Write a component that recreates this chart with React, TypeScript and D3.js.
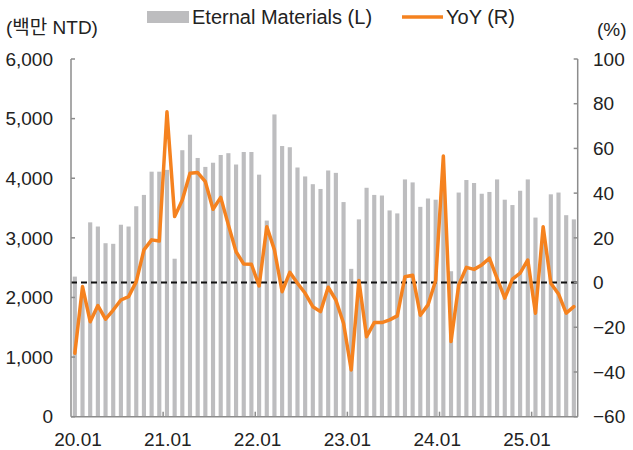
import React from "react";
import * as d3 from "d3";

const years = ["20", "21", "22", "23", "24", "25"];
const monthsPerYear = ["01", "02", "03", "04", "05", "06", "07", "08", "09", "10", "11", "12"];
const categories: string[] = [];
years.forEach((y) => monthsPerYear.forEach((m) => categories.push(`${y}.${m}`)));
const months = categories.slice(0, 66);

const salesValues = [
  2350, 2050, 3260, 3190, 2910, 2900, 3220, 3190, 3530, 3720, 4110, 4110,
  4140, 2650, 4470, 4730, 4340, 4190, 4260, 4390, 4420, 4230, 4440, 4440,
  4060, 3290, 5070, 4540, 4520, 4180, 4030, 3900, 3820, 4130, 4090, 3600,
  2480, 3310, 3840, 3720, 3710, 3460, 3410, 3980, 3930, 3520, 3660, 3640,
  3880, 2440, 3760, 3970, 3920, 3740, 3770, 3980, 3640, 3550, 3790, 3980,
  3340, 3050, 3730, 3760, 3380, 3310,
];

const yoyValues = [
  -31.6, -1.8, -17.5, -10.3, -16.4, -12.3, -7.8, -6.3, 0.4, 14.6, 19.1, 18.6,
  76.4, 29.5, 36.9, 48.9, 49.2, 45.1, 32.8, 38.1, 25.8, 13.8, 8.3, 8.2,
  -1.5, 25.0, 14.6, -4.1, 4.6, -0.3, -4.8, -10.8, -13.0, -2.1, -7.8, -18.2,
  -39.1, 0.9, -24.2, -17.9, -17.9, -16.7, -14.9, 2.6, 3.3, -14.6, -10.0, 0.9,
  56.6, -26.4, -1.1, 6.8, 5.9, 7.9, 10.9, 1.9, -7.0, 1.5, 4.2, 10.1,
  -13.7, 25.0, -0.3, -5.1, -13.7, -10.8,
];

const leftTicks = [0, 1000, 2000, 3000, 4000, 5000, 6000];
const rightTicks = [-60, -40, -20, 0, 20, 40, 60, 80, 100];
const xTickLabels = ["20.01", "21.01", "22.01", "23.01", "24.01", "25.01"];

const W = 633;
const H = 450;
const plot = { left: 71, right: 577.7, top: 59, bottom: 416.7 };
const FONT = "'Liberation Sans', Arial, 'Noto Sans CJK KR', sans-serif";
const BAR = "#bdbdbf";
const ORANGE = "#f5821f";
const AXIS = "#8c8c8c";
const TEXT = "#222";

export default function App() {
  const x = d3
    .scaleBand<string>()
    .domain(months)
    .range([plot.left, plot.right])
    .paddingInner(0.46)
    .paddingOuter(0.23);
  const yL = d3.scaleLinear().domain([0, 6000]).range([plot.bottom, plot.top]);
  const yR = d3.scaleLinear().domain([-60, 100]).range([plot.bottom, plot.top]);
  const step = x.step();
  const cx = (m: string) => (x(m) as number) + x.bandwidth() / 2;

  const line = d3
    .line<number>()
    .x((_, i) => cx(months[i]))
    .y((d) => yR(d));

  // label centres spread slightly tighter than category centres (as in original)
  const labelX = d3
    .scaleLinear()
    .domain([0, 60])
    .range([plot.left + 7, plot.left + 456]);

  const yearTicks = [12, 24, 36, 48, 60].map((i) => plot.left + i * step);

  return (
    <svg
      width={W}
      height={H}
      style={{ position: "absolute", left: 0, top: 0, display: "block", background: "#fff" }}
      fontFamily={FONT}
    >
      {/* bars */}
      {salesValues.map((v, i) => (
        <rect
          key={i}
          x={x(months[i])}
          y={yL(v)}
          width={x.bandwidth()}
          height={yL(0) - yL(v)}
          fill={BAR}
        />
      ))}

      {/* zero line for YoY */}
      <line
        x1={plot.left}
        x2={plot.right}
        y1={yR(0)}
        y2={yR(0)}
        stroke="#111"
        strokeWidth={2}
        strokeDasharray="6,4"
      />

      {/* YoY line */}
      <path
        d={line(yoyValues) || ""}
        fill="none"
        stroke={ORANGE}
        strokeWidth={3.5}
        strokeLinejoin="round"
        strokeLinecap="round"
      />

      {/* axes */}
      <line x1={plot.left} x2={plot.left} y1={plot.top} y2={plot.bottom} stroke={AXIS} strokeWidth={1.5} />
      <line x1={plot.right} x2={plot.right} y1={plot.top} y2={plot.bottom} stroke={AXIS} strokeWidth={1.5} />
      <line x1={plot.left} x2={plot.right} y1={plot.bottom} y2={plot.bottom} stroke={AXIS} strokeWidth={1.5} />
      {leftTicks.map((t) => (
        <g key={"l" + t}>
          <line x1={plot.left} x2={plot.left + 4} y1={yL(t)} y2={yL(t)} stroke={AXIS} strokeWidth={1.5} />
          <text x={53} y={yL(t)} dy="0.35em" textAnchor="end" fontSize={19} fill={TEXT}>
            {d3.format(",")(t)}
          </text>
        </g>
      ))}
      {rightTicks.map((t) => (
        <g key={"r" + t}>
          <line x1={plot.right - 4} x2={plot.right} y1={yR(t)} y2={yR(t)} stroke={AXIS} strokeWidth={1.5} />
          <text x={593} y={yR(t)} dy="0.35em" textAnchor="start" fontSize={19} fill={TEXT}>
            {t < 0 ? "\u2212" + Math.abs(t) : String(t)}
          </text>
        </g>
      ))}
      {yearTicks.map((tx, i) => (
        <line key={"xt" + i} x1={tx} x2={tx} y1={plot.bottom} y2={plot.bottom - 5} stroke={AXIS} strokeWidth={1.5} />
      ))}
      {xTickLabels.map((lab, i) => (
        <text key={lab} x={labelX(i * 12)} y={446} textAnchor="middle" fontSize={19} fill={TEXT}>
          {lab}
        </text>
      ))}

      {/* axis titles */}
      <text x={6} y={27} dy="0.35em" fontSize={19} fill={TEXT}>
        (백만 NTD)
      </text>
      <text x={597} y={29} dy="0.35em" fontSize={19} fill={TEXT}>
        (%)
      </text>

      {/* legend */}
      <rect x={147} y={11} width={42} height={12} fill={BAR} />
      <text x={192} y={17} dy="0.35em" fontSize={20} fill={TEXT}>
        Eternal Materials (L)
      </text>
      <line x1={402} x2={443} y1={17} y2={17} stroke={ORANGE} strokeWidth={3.5} />
      <text x={446} y={17} dy="0.35em" fontSize={20} fill={TEXT}>
        YoY (R)
      </text>
    </svg>
  );
}
